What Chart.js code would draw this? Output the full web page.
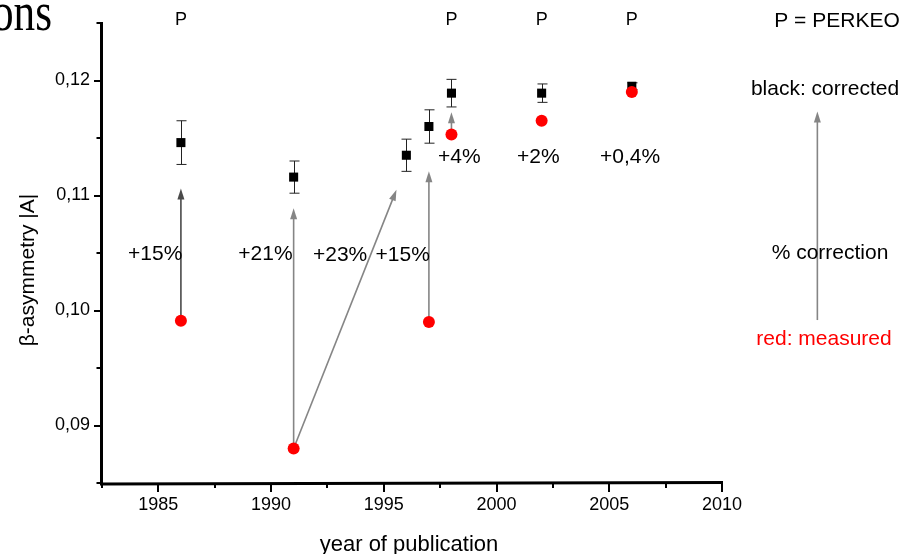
<!DOCTYPE html>
<html>
<head>
<meta charset="utf-8">
<script src="https://cdn.jsdelivr.net/npm/chart.js@4.4.1/dist/chart.umd.min.js"></script>
<style>
  html, body { margin: 0; padding: 0; background: #fff; }
  #wrap { position: relative; width: 909px; height: 554px; }
</style>
</head>
<body>
<div id="wrap"><canvas id="asymChart" width="909" height="554"></canvas></div>
<script>
(function () {

    "use strict";

    // corrected asymmetry (black squares) with their errors
    var years = [1986, 1991, 1996, 1997, 1998, 2002, 2006];
    var corrected = [0.1146, 0.1116, 0.1135, 0.1160, 0.1189, 0.1189, 0.1195];
    var correctedErr = [0.0019, 0.0014, 0.0014, 0.00145, 0.0012, 0.0008, 0.0003];

    // measured asymmetry (red dots)
    var measuredYears = [1986, 1991, 1997, 1998, 2002, 2006];
    var measured = [0.0991, 0.0880, 0.0990, 0.1153, 0.1165, 0.1190];

    // correction arrows, measured -> corrected
    var arrowFromX = [1986, 1991, 1991, 1997, 1998];
    var arrowFromY = [0.0991, 0.0880, 0.0880, 0.0990, 0.1153];
    var arrowToX = [1986, 1991, 1995.56, 1997, 1998];
    var arrowToY = [0.1106, 0.1089, 0.1105, 0.1121, 0.11725];

    var corrLabels = ['+15%', '+21%', '+23%', '+15%', '+4%', '+2%', '+0,4%'];
    var perkeoYears = [1986, 1998, 2002, 2006];

    var xTicks = [1985, 1990, 1995, 2000, 2005, 2010];
    var xTickLabels = ['1985', '1990', '1995', '2000', '2005', '2010'];
    var xMinor = [1982.5, 1987.5, 1992.5, 1997.5, 2002.5, 2007.5];
    var yTicks = [0.09, 0.10, 0.11, 0.12];
    var yTickLabels = ['0,09', '0,10', '0,11', '0,12'];
    var yMinor = [0.085, 0.095, 0.105, 0.115, 0.125];

    var SANS = '"Liberation Sans", Arial, sans-serif';

    // where the correction labels sit, in axis units
    var corrLabelX = [1984.86, 1989.75, 1993.06, 1995.84, 1998.35, 2001.85, 2005.92];
    var corrLabelY = [0.1049, 0.1049, 0.10485, 0.10485, 0.1133, 0.1133, 0.1133];

    function drawArrow(ctx, x1, y1, x2, y2, color) {
        var ang = Math.atan2(y2 - y1, x2 - x1);
        var len = 11, half = 3.5;
        var cx = Math.cos(ang), cy = Math.sin(ang);
        ctx.save();
        ctx.strokeStyle = color;
        ctx.fillStyle = color;
        ctx.lineWidth = 1.6;
        ctx.beginPath();
        ctx.moveTo(x1, y1);
        ctx.lineTo(x2 - cx * len * 0.7, y2 - cy * len * 0.7);
        ctx.stroke();
        ctx.beginPath();
        ctx.moveTo(x2, y2);
        ctx.lineTo(x2 - cx * len - cy * half, y2 - cy * len + cx * half);
        ctx.lineTo(x2 - cx * len + cy * half, y2 - cy * len - cx * half);
        ctx.closePath();
        ctx.fill();
        ctx.restore();
    }

    function text(ctx, str, x, y, font, color, align) {
        ctx.font = font;
        ctx.fillStyle = color || '#000';
        ctx.textAlign = align || 'center';
        ctx.textBaseline = 'middle';
        ctx.fillText(str, x, y);
    }

    var extras = {
        id: 'extras',
        beforeDatasetsDraw: function (chart) {
            var ctx = chart.ctx, xs = chart.scales.x, ys = chart.scales.y;
            ctx.save();
            // correction arrows
            for (var i = 0; i < arrowFromX.length; i++) {
                drawArrow(ctx,
                    xs.getPixelForValue(arrowFromX[i]), ys.getPixelForValue(arrowFromY[i]),
                    xs.getPixelForValue(arrowToX[i]), ys.getPixelForValue(arrowToY[i]),
                    i === 0 ? '#4a4a4a' : '#858585');
            }
            // error bars on the corrected points
            ctx.strokeStyle = '#222';
            ctx.lineWidth = 1;
            for (var j = 0; j < years.length; j++) {
                var px = Math.round(xs.getPixelForValue(years[j])) + 0.5;
                var top = ys.getPixelForValue(corrected[j] + correctedErr[j]);
                var bot = ys.getPixelForValue(corrected[j] - correctedErr[j]);
                ctx.beginPath();
                ctx.moveTo(px, top); ctx.lineTo(px, bot);
                ctx.moveTo(px - 5, top); ctx.lineTo(px + 5, top);
                ctx.moveTo(px - 5, bot); ctx.lineTo(px + 5, bot);
                ctx.stroke();
            }
            ctx.restore();
        },
        afterDraw: function (chart) {
            var ctx = chart.ctx, xs = chart.scales.x, ys = chart.scales.y;
            var area = chart.chartArea;
            var ax = area.left - 0.5, ay = area.bottom - 0.5;
            var i;
            ctx.save();

            // axis lines
            ctx.strokeStyle = '#000';
            ctx.lineWidth = 3;
            ctx.beginPath();
            ctx.moveTo(ax, ys.getPixelForValue(0.125) - 1);
            ctx.lineTo(ax, ay + 1.5);
            ctx.lineTo(xs.getPixelForValue(2010) + 1, ay);
            ctx.stroke();

            // tick marks, major and minor
            ctx.lineWidth = 2;
            ctx.beginPath();
            for (i = 0; i < yTicks.length; i++) {
                var ty = Math.round(ys.getPixelForValue(yTicks[i]));
                ctx.moveTo(ax - 1.5, ty); ctx.lineTo(ax - 7.5, ty);
            }
            for (i = 0; i < yMinor.length; i++) {
                var my = Math.round(ys.getPixelForValue(yMinor[i]));
                ctx.moveTo(ax - 1.5, my); ctx.lineTo(ax - 5, my);
            }
            for (i = 0; i < xTicks.length; i++) {
                var tx = Math.round(xs.getPixelForValue(xTicks[i]));
                ctx.moveTo(tx, ay + 1.5); ctx.lineTo(tx, ay + 9.5);
            }
            for (i = 0; i < xMinor.length; i++) {
                var mx = Math.round(xs.getPixelForValue(xMinor[i]));
                ctx.moveTo(mx, ay + 1.5); ctx.lineTo(mx, ay + 5.5);
            }
            ctx.stroke();

            // axis titles
            text(ctx, 'year of publication', 409, 545, '22px ' + SANS);
            ctx.save();
            ctx.translate(28, 270);
            ctx.rotate(-Math.PI / 2);
            text(ctx, 'β-asymmetry |A|', 0, 0, '21px ' + SANS);
            ctx.restore();

            // correction percentages
            for (i = 0; i < corrLabels.length; i++) {
                text(ctx, corrLabels[i], xs.getPixelForValue(corrLabelX[i]),
                    ys.getPixelForValue(corrLabelY[i]), '21px ' + SANS);
            }

            // PERKEO markers along the top
            for (i = 0; i < perkeoYears.length; i++) {
                text(ctx, 'P', xs.getPixelForValue(perkeoYears[i]), 20, '18px ' + SANS);
            }

            // key on the right
            text(ctx, 'P = PERKEO', 837, 21, '21px ' + SANS);
            text(ctx, 'black: corrected', 825, 89, '21px ' + SANS);
            drawArrow(ctx, xs.getPixelForValue(2014.23), ys.getPixelForValue(0.09917),
                xs.getPixelForValue(2014.23), ys.getPixelForValue(0.1173), '#858585');
            text(ctx, '% correction', 830, 253, '21px ' + SANS);
            text(ctx, 'red: measured', 824, 339, '21px ' + SANS, '#ff0000');

            // tail of the slide heading
            ctx.save();
            ctx.translate(52, 30);
            ctx.scale(0.8, 1);
            ctx.font = '54px "Liberation Serif", "Times New Roman", serif';
            ctx.fillStyle = '#000';
            ctx.textAlign = 'right';
            ctx.textBaseline = 'alphabetic';
            ctx.fillText('ons', 0, 0);
            ctx.restore();

            ctx.restore();
        }
    };

    var correctedPts = years.map(function (y, i) { return { x: y, y: corrected[i] }; });
    var measuredPts = measuredYears.map(function (y, i) { return { x: y, y: measured[i] }; });

    var ctx = document.getElementById('asymChart').getContext('2d');
    new Chart(ctx, {
        type: 'scatter',
        data: {
            datasets: [
                {
                    label: 'measured',
                    data: measuredPts,
                    pointStyle: 'circle',
                    pointRadius: 6,
                    pointBorderWidth: 0,
                    backgroundColor: '#ff0000',
                    borderColor: '#ff0000'
                },
                {
                    label: 'corrected',
                    data: correctedPts,
                    pointStyle: 'rect',
                    pointRadius: 6.4,
                    pointBorderWidth: 0,
                    backgroundColor: '#000',
                    borderColor: '#000'
                }
            ]
        },
        options: {
            responsive: false,
            animation: false,
            devicePixelRatio: 1,
            layout: { padding: { left: 0, top: 23, right: 187, bottom: 0 } },
            plugins: {
                legend: { display: false },
                tooltip: { enabled: false }
            },
            scales: {
                x: {
                    type: 'linear',
                    min: 1982.5,
                    max: 2010,
                    border: { display: false },
                    grid: { display: false, drawTicks: false },
                    afterBuildTicks: function (s) {
                        s.ticks = xTicks.map(function (v) { return { value: v }; });
                    },
                    afterFit: function (s) { s.height = 71; },
                    ticks: {
                        padding: 11,
                        color: '#000',
                        maxRotation: 0,
                        autoSkip: false,
                        font: { family: SANS, size: 18 },
                        callback: function (v, i) { return xTickLabels[i]; }
                    }
                },
                y: {
                    min: 0.085,
                    max: 0.125,
                    border: { display: false },
                    grid: { display: false, drawTicks: false },
                    afterBuildTicks: function (s) {
                        s.ticks = yTicks.map(function (v) { return { value: v }; });
                    },
                    afterFit: function (s) { s.width = 102; },
                    ticks: {
                        padding: 12,
                        color: '#000',
                        autoSkip: false,
                        font: { family: SANS, size: 18 },
                        callback: function (v, i) { return yTickLabels[i]; }
                    }
                }
            }
        },
        plugins: [extras]
    });
})();
</script>
</body>
</html>
